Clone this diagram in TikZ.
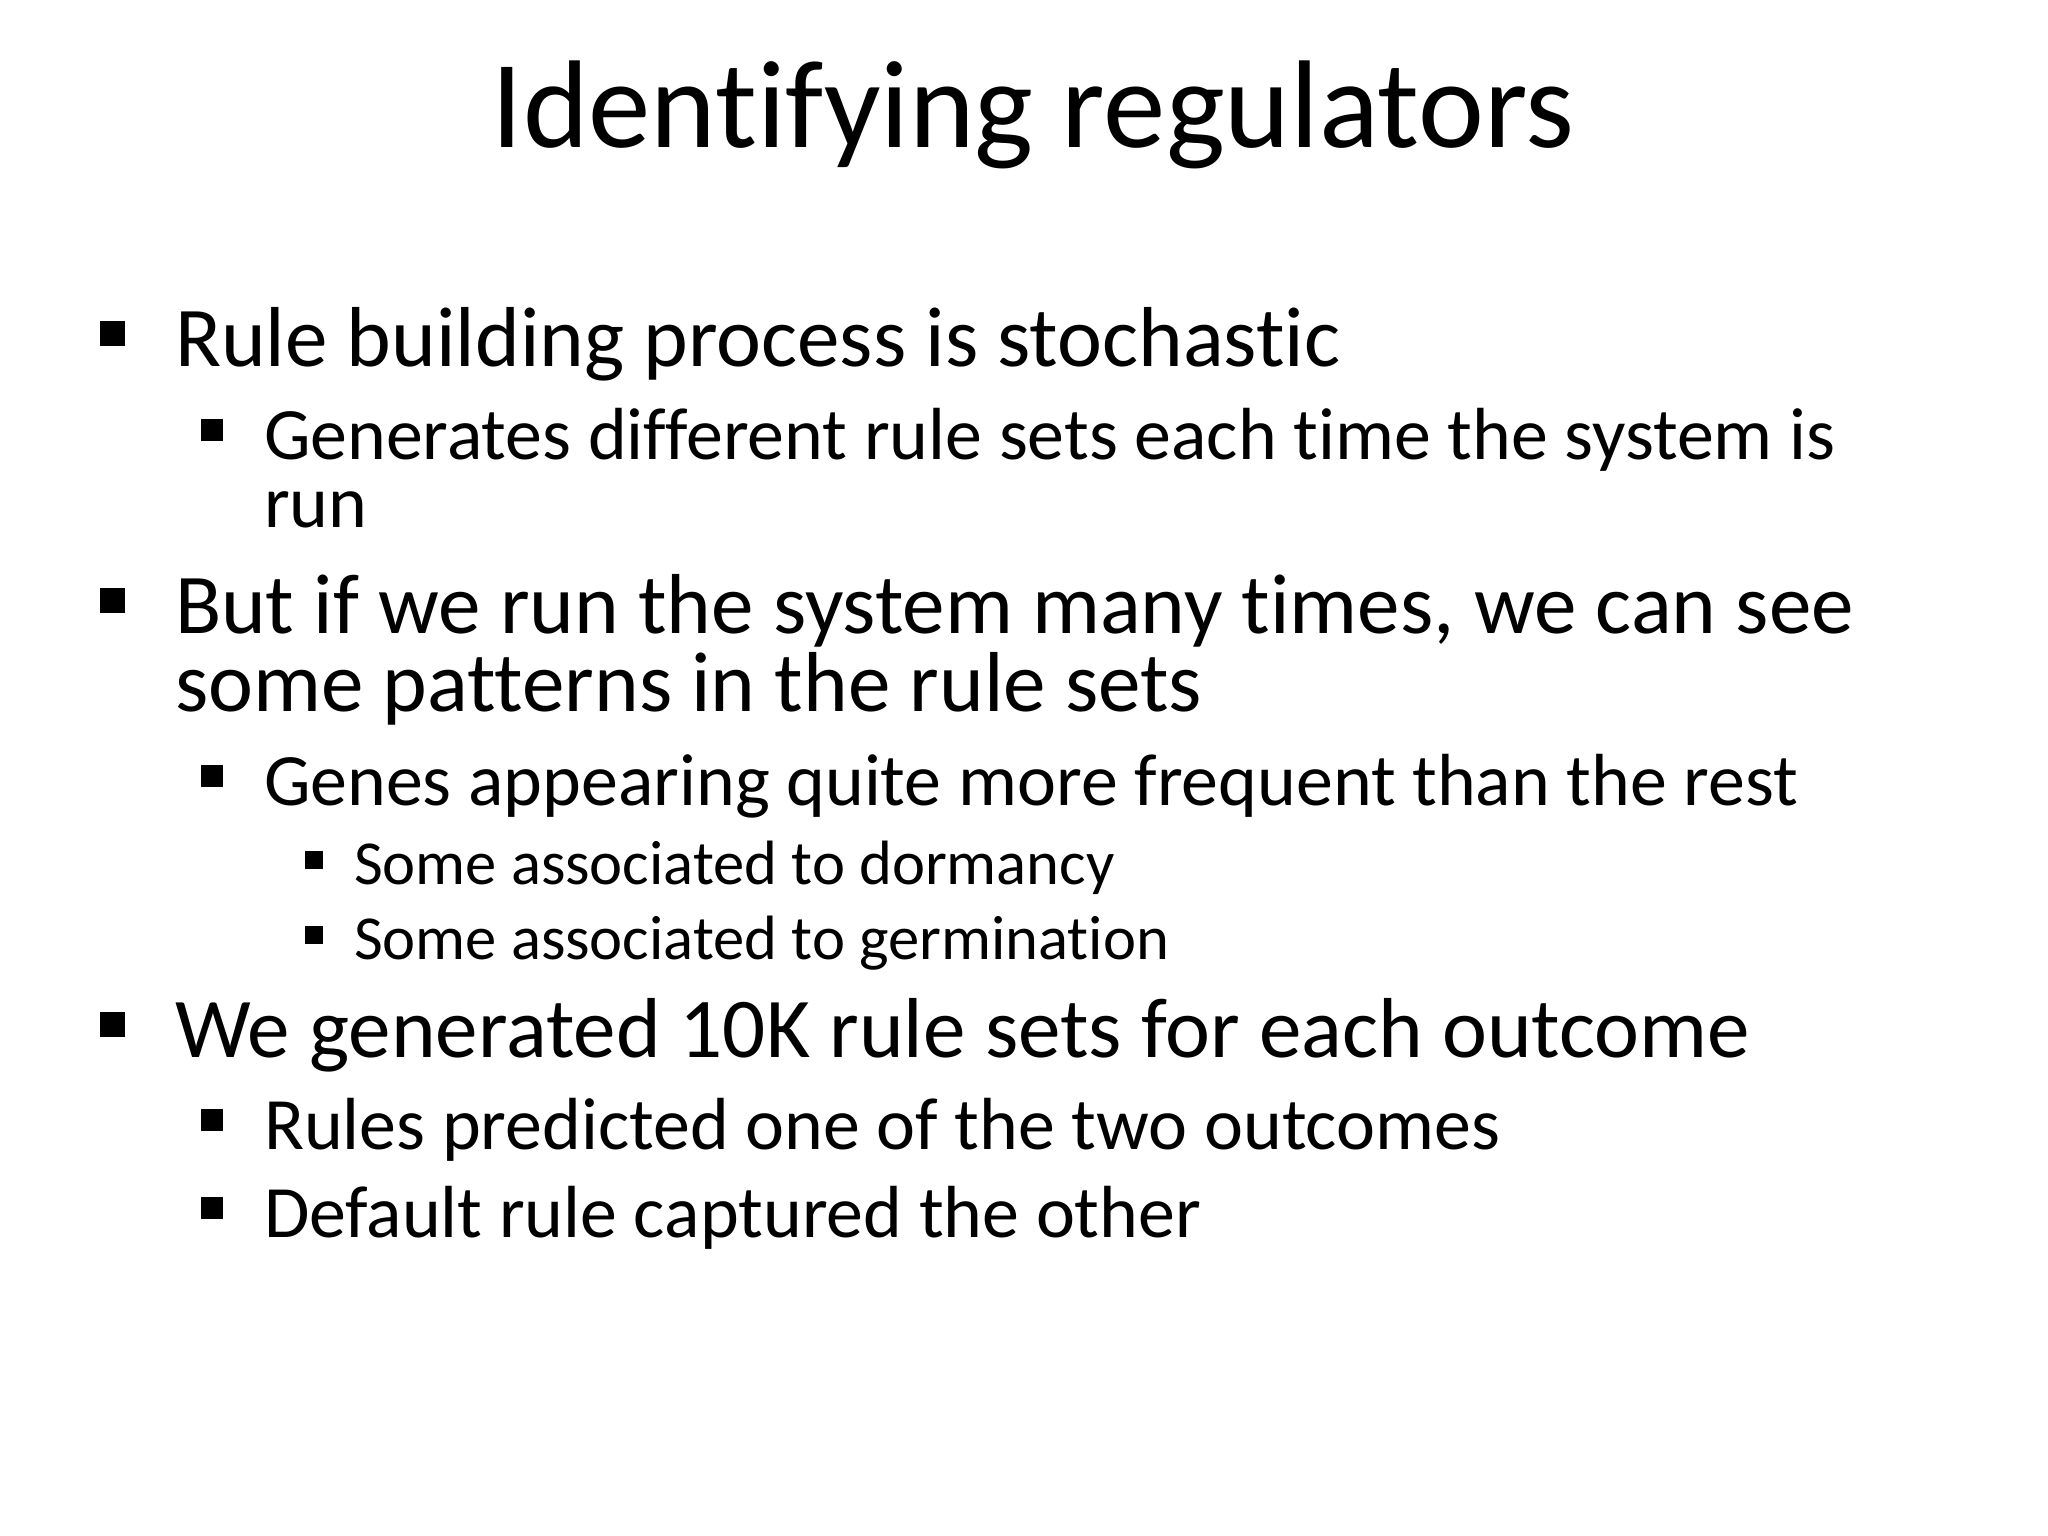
\documentclass[tikz,border=0pt]{standalone}
\usepackage{fontspec}
\setmainfont[Ligatures=NoCommon]{Carlito}
\begin{document}
\begin{tikzpicture}[x=0.01cm,y=-0.01cm,
  t/.style={anchor=base west,inner sep=0pt,outer sep=0pt},
  lone/.style={t,font=\fontsize{24.2}{29}\selectfont},
  ltwo/.style={t,font=\fontsize{21}{25}\selectfont},
  lthree/.style={t,font=\fontsize{17.8}{21}\selectfont}]
\fill[white] (0,0) rectangle (2048,1536);
\useasboundingbox (0,0) rectangle (2048,1536);
\node[anchor=base,inner sep=0pt,font=\fontsize{35.5}{42}\selectfont] (title) at (1033,147) {Identifying regulators};
\node[lone] (a) at (175,366) {Rule building process is stochastic};
\node[ltwo] (a1) at (264,459) {Generates different rule sets each time the system is};
\node[ltwo] (a1b) at (264,527) {run};
\node[lone] (b) at (175,633) {But if we run the system many times, we can see};
\node[lone] (bb) at (175,711) {some patterns in the rule sets};
\node[ltwo] (b1) at (264,805) {Genes appearing quite more frequent than the rest};
\node[lthree] (b11) at (354,884) {Some associated to dormancy};
\node[lthree] (b12) at (354,959) {Some associated to germination};
\node[lone] (c) at (175,1057) {We generated 10K rule sets for each outcome};
\node[ltwo] (c1) at (264,1149) {Rules predicted one of the two outcomes};
\node[ltwo] (c2) at (264,1237) {Default rule captured the other};
\foreach \y in {366,633,1057} \fill (100,\y-45) rectangle (125,\y-20);
\foreach \y in {459,805,1149,1237} \fill (201,\y-40) rectangle (223,\y-18);
\foreach \y in {884,959} \fill (305,\y-33) rectangle (323,\y-15);
\end{tikzpicture}
\end{document}
